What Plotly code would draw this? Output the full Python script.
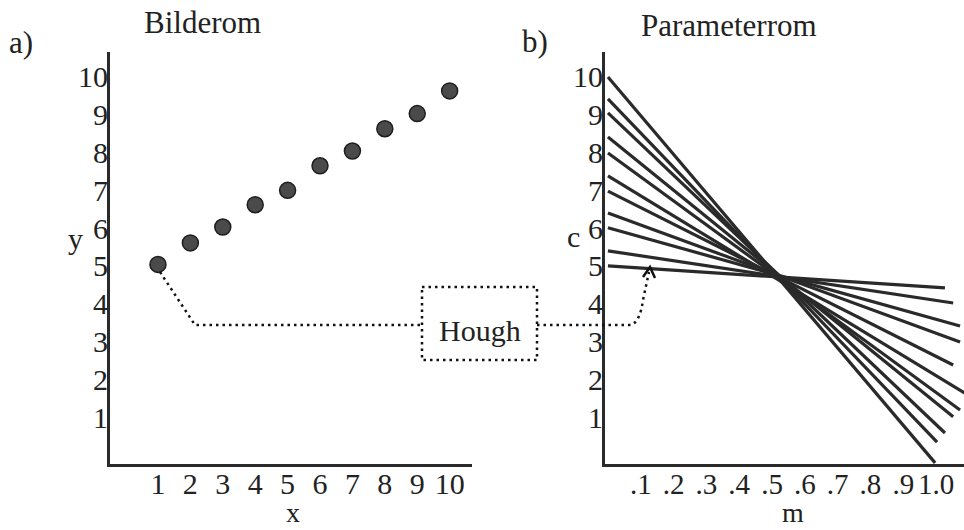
import plotly.graph_objects as go

# ---------------- data ----------------
# a) image space points
img_x = [1, 2, 3, 4, 5, 6, 7, 8, 9, 10]
img_y = [5.04, 5.61, 6.03, 6.62, 7.0, 7.65, 8.04, 8.63, 9.03, 9.63]

# b) parameter space lines: c at m=0 and end point
line_c_start = [5.0, 5.4, 6.01, 6.4, 6.98, 7.38, 7.99, 8.41, 9.05, 9.42, 10.0]
line_m_end = [1.027, 1.052, 1.073, 1.073, 1.052, 1.12, 1.073, 1.052, 1.027, 1.003, 0.997]
line_c_end = [4.42, 4.02, 3.41, 2.99, 2.38, 1.46, 1.19, 1.01, 0.58, 0.34, -0.21]

x_ticks = [1, 2, 3, 4, 5, 6, 7, 8, 9, 10]
y_ticks = [1, 2, 3, 4, 5, 6, 7, 8, 9, 10]
m_ticks = [0.1, 0.2, 0.3, 0.4, 0.5, 0.6, 0.7, 0.8, 0.9, 1.0]
m_ticktext = [".1", ".2", ".3", ".4", ".5", ".6", ".7", ".8", ".9", "1.0"]

W, H = 964, 530
FONT = "Liberation Serif"
INK = "#222222"


def px(x):
    return x / W


def py(y):
    return 1 - y / H


fig = go.Figure()

fig.add_trace(go.Scatter(
    x=img_x, y=img_y, mode="markers",
    marker=dict(size=16, color="#4a4a4a", line=dict(color="#1e1e1e", width=1.5)),
    xaxis="x", yaxis="y", showlegend=False, hoverinfo="skip"))

for c0, m1, c1 in zip(line_c_start, line_m_end, line_c_end):
    fig.add_trace(go.Scatter(
        x=[0, m1], y=[c0, c1], mode="lines",
        line=dict(color="#2a2a2a", width=3.2),
        xaxis="x2", yaxis="y2", showlegend=False, hoverinfo="skip"))

ydom = [py(464), py(52)]


def axis_style(size=30):
    return dict(showgrid=False, zeroline=False, showline=True, linecolor="#2a2a2a",
                linewidth=3, ticks="", tickangle=0,
                tickfont=dict(family=FONT, size=size, color=INK))


fig.update_layout(
    width=W, height=H,
    margin=dict(l=0, r=0, t=0, b=0),
    paper_bgcolor="white", plot_bgcolor="white",
    xaxis=dict(domain=[px(110), px(472)], range=[-0.48, 10.69], tickvals=x_ticks,
               anchor="y", ticklabelstandoff=-9, **axis_style()),
    yaxis=dict(domain=ydom, range=[-0.24, 10.66], tickvals=y_ticks,
               anchor="x", ticklabelstandoff=-7, **axis_style()),
    xaxis2=dict(domain=[px(605), 1.0], range=[-0.009, 1.085], tickvals=m_ticks,
                ticktext=m_ticktext, anchor="y2", ticklabelstandoff=-8, **axis_style(29)),
    yaxis2=dict(domain=ydom, range=[-0.24, 10.66], tickvals=y_ticks,
                anchor="x2", ticklabelstandoff=-7, **axis_style()),
)

annotations = [
    dict(text="Bilderom", x=px(202), y=py(23), size=31, ya="middle"),
    dict(text="Parameterrom", x=px(729), y=py(26), size=31, ya="middle"),
    dict(text="a)", x=px(21), y=py(43), size=31, ya="middle"),
    dict(text="b)", x=px(535), y=py(42), size=31, ya="middle"),
    dict(text="y", x=px(75), y=py(238), size=30, ya="middle"),
    dict(text="c", x=px(573), y=py(236), size=30, ya="middle"),
    dict(text="x", x=px(293), y=0, size=28, ya="bottom"),
    dict(text="m", x=px(793), y=0, size=28, ya="bottom"),
    dict(text="Hough", x=px(480), y=py(330), size=30, ya="middle"),
]
fig.update_layout(annotations=[
    dict(text=a["text"], x=a["x"], y=a["y"], xref="paper", yref="paper",
         xanchor="center", yanchor=a["ya"], showarrow=False,
         font=dict(family=FONT, size=a["size"], color=INK))
    for a in annotations])

dot = dict(color="#111111", width=2.5, dash="2.5px,4px")


def path(points):
    s = "M " + " L ".join(f"{px(x)},{py(y)}" for x, y in points)
    return s


shapes = [
    dict(type="path", path=path([(160, 272), (195, 325), (422, 325)])),
    dict(type="rect", x0=px(422), x1=px(537), y0=py(287), y1=py(360)),
    dict(type="path", path=f"M {px(537)},{py(325)} L {px(631)},{py(325)} "
                           f"Q {px(640)},{py(322)} {px(643)},{py(300)} L {px(649)},{py(272)}"),
]
fig.update_layout(shapes=[dict(xref="paper", yref="paper", line=dot, **s) for s in shapes] + [
    dict(type="path", xref="paper", yref="paper",
         path=f"M {px(643)},{py(277)} L {px(650)},{py(267)} L {px(655)},{py(278)}",
         line=dict(color="#111111", width=2.5))
])

fig.write_html("out.html")
